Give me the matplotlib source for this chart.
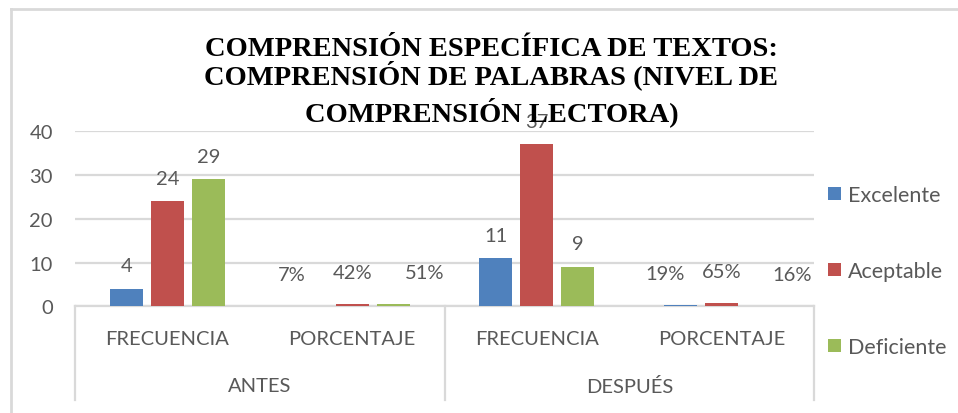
import matplotlib
matplotlib.use("Agg")
import matplotlib.pyplot as plt
from matplotlib.lines import Line2D
import numpy as np

# ---- data ----
groups = ["ANTES", "DESPUÉS"]
subcats = ["FRECUENCIA", "PORCENTAJE", "FRECUENCIA", "PORCENTAJE"]
series = ["Excelente", "Aceptable", "Deficiente"]
excelente = [4, 0.07, 11, 0.19]
aceptable = [24, 0.42, 37, 0.65]
deficiente = [29, 0.51, 9, 0.16]
is_pct = [False, True, False, True]
yticks = [0, 10, 20, 30, 40]
title_lines = ["COMPRENSIÓN ESPECÍFICA DE TEXTOS:",
               "COMPRENSIÓN DE PALABRAS (NIVEL DE",
               "COMPRENSIÓN LECTORA)"]

# ---- style ----
colors = ["#4F81BD", "#C0504D", "#9BBB59"]
txt = "#595959"
grid_c = "#D9D9D9"
FONT = "Lato"
FS = 14.5
LFS = 15.5

W, H = 958, 414
fig = plt.figure(figsize=(W / 100, H / 100), dpi=100)

def fx(px):
    return px / W

def fy(py):
    return 1 - py / H

ax_l, ax_r, ax_t, ax_b = 75, 814, 132.3, 307.3
ax = fig.add_axes([fx(ax_l), fy(ax_b), fx(ax_r - ax_l), (ax_b - ax_t) / H])
ax.set_xlim(0, 4)
ax.set_ylim(0, 40)

bw = 33 / ((ax_r - ax_l) / 4)
step = 41 / ((ax_r - ax_l) / 4)
x = np.arange(4) + 0.5
vals = [excelente, aceptable, deficiente]
bars_all = []
for i, (v, c, name) in enumerate(zip(vals, colors, series)):
    b = ax.bar(x + (i - 1) * step, v, width=bw, color=c, label=name, zorder=3)
    bars_all.append(b)

# data labels
pct_dx = [[0, -19, 0, -16], [0, 0, 0, 0], [0, 32, 0, 29]]
for i, (b, v) in enumerate(zip(bars_all, vals)):
    for j, rect in enumerate(b):
        xc = rect.get_x() + rect.get_width() / 2
        if is_pct[j]:
            lab = f"{round(v[j] * 100)}%"
            dy = 31.5
        else:
            lab = f"{v[j]:g}"
            dy = 23
        ax.annotate(lab, (xc, v[j]), xytext=(pct_dx[i][j], dy),
                    textcoords="offset pixels", ha="center", va="center",
                    fontsize=FS, color=txt, family=FONT, zorder=4,
                    annotation_clip=False)

ax.set_yticks(yticks)
ax.set_yticklabels([str(t) for t in yticks], fontsize=FS, color=txt, family=FONT)
ax.tick_params(axis="y", length=0, pad=16)
ax.set_xticks([])
ax.grid(axis="y", color=grid_c, linewidth=1.6, zorder=0)
for s in ["top", "right", "left"]:
    ax.spines[s].set_visible(False)
ax.spines["bottom"].set_color(grid_c)
ax.spines["bottom"].set_linewidth(1.6)
ax.spines["bottom"].set_zorder(2)

# category labels
for j, lab in enumerate(subcats):
    fig.text(fx(ax_l + (ax_r - ax_l) * (j + 0.5) / 4), fy(340), lab,
             ha="center", va="center", fontsize=FS, color=txt, family=FONT)
for k, g in enumerate(groups):
    fig.text(fx(ax_l + (ax_r - ax_l) * (k * 2 + 1) / 4), fy(387), g,
             ha="center", va="center", fontsize=FS, color=txt, family=FONT)

# separators
for sx in [ax_l, (ax_l + ax_r) / 2, ax_r]:
    fig.add_artist(Line2D([fx(sx), fx(sx)], [fy(ax_b), fy(401)],
                          color=grid_c, linewidth=1.6, transform=fig.transFigure))

# chart border
fig.add_artist(Line2D([fx(11), fx(11)], [fy(10), 0], color=grid_c, linewidth=2,
                      transform=fig.transFigure))
fig.add_artist(Line2D([fx(11), 1], [fy(10), fy(10)], color=grid_c, linewidth=2,
                      transform=fig.transFigure))

# title
for line, base in zip(title_lines, [56, 84.5, 121]):
    fig.text(fx(491.5), fy(base), line, ha="center", va="baseline",
             fontsize=20.5, fontweight="bold", family="Liberation Serif",
             color="black", zorder=5)

# legend
hs = 13 / (LFS * 100 / 72)
leg = fig.legend(handles=bars_all, labels=series, loc="center left",
                 bbox_to_anchor=(fx(828), fy(272)), frameon=False,
                 borderpad=0, borderaxespad=0, handlelength=hs, handleheight=hs,
                 handletextpad=0.33, labelspacing=2.6,
                 prop={"family": FONT, "size": LFS})
for t in leg.get_texts():
    t.set_color(txt)

fig.savefig("out.png", dpi=100)
